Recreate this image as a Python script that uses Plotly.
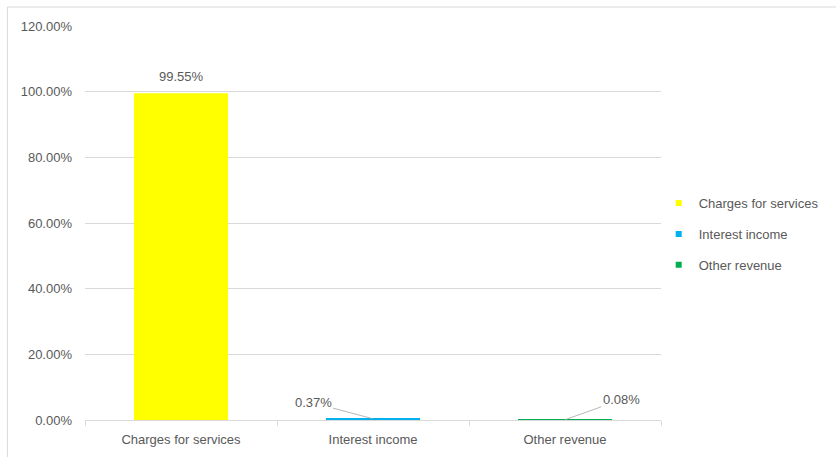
import plotly.graph_objects as go

categories = ["Charges for services", "Interest income", "Other revenue"]
values = [0.9955, 0.0037, 0.0008]
labels = ["99.55%", "0.37%", "0.08%"]
colors = ["#FFFF00", "#00B0F0", "#00B050"]
y_ticks = [0, 0.2, 0.4, 0.6, 0.8, 1.0, 1.2]
y_tick_text = ["0.00%", "20.00%", "40.00%", "60.00%", "80.00%", "100.00%", "120.00%"]

FONT = "Liberation Sans, Arial, sans-serif"
TXT = "#595959"

fig = go.Figure()
for i, (c, v, col) in enumerate(zip(categories, values, colors)):
    fig.add_trace(go.Bar(
        x=[c], y=[v], name=c, marker=dict(color=col, line=dict(width=0)),
        width=0.49, showlegend=False,
    ))
# legend entries with small square markers
for c, col in zip(categories, colors):
    fig.add_trace(go.Scatter(
        x=[None], y=[None], mode="markers", name=c, legendgroup=c,
        marker=dict(symbol="square", size=6, color=col),
    ))

# data labels
fig.add_annotation(x=categories[0], y=values[0], text=labels[0], showarrow=False,
                   yanchor="bottom", yshift=7, font=dict(size=13, color=TXT, family=FONT))
fig.add_annotation(x=categories[1], y=values[1], text=labels[1], showarrow=True,
                   arrowhead=0, arrowwidth=0.8, arrowcolor="#A6A6A6",
                   ax=-60, ay=-16, font=dict(size=13, color=TXT, family=FONT))
fig.add_annotation(x=categories[2], y=values[2], text=labels[2], showarrow=True,
                   arrowhead=0, arrowwidth=0.8, arrowcolor="#A6A6A6",
                   ax=56, ay=-20, font=dict(size=13, color=TXT, family=FONT))

# chart-area border
fig.add_shape(type="rect", xref="paper", yref="paper",
              x0=-0.1347, x1=1.31, y0=-0.11, y1=1.0482,
              line=dict(color="#D9D9D9", width=1), layer="below")

fig.update_layout(
    width=836, height=457,
    margin=dict(l=85, r=172, t=26, b=37),
    paper_bgcolor="white", plot_bgcolor="white",
    barmode="overlay",
    font=dict(family=FONT, size=13, color=TXT),
    showlegend=True,
    legend=dict(x=0.996, xanchor="left", y=0.472, yanchor="middle",
                font=dict(size=13, color=TXT, family=FONT),
                tracegroupgap=11, traceorder="grouped",
                bgcolor="rgba(0,0,0,0)"),
    xaxis=dict(showgrid=False, showline=True, linecolor="#D9D9D9", linewidth=1,
               ticks="outside", tickson="boundaries", ticklen=5, tickcolor="#D9D9D9",
               ticklabelstandoff=7, automargin=False,
               tickfont=dict(size=13, color=TXT, family=FONT), fixedrange=True),
    yaxis=dict(range=[0, 1.2], tickvals=y_ticks, ticktext=y_tick_text,
               showgrid=True, gridcolor="#D9D9D9", gridwidth=1, zeroline=False,
               showline=False, ticklabelstandoff=12, automargin=False,
               tickfont=dict(size=13, color=TXT, family=FONT)),
)

fig.write_html("out.html", config={"displayModeBar": False},
               post_script="document.body.style.margin='0';")
